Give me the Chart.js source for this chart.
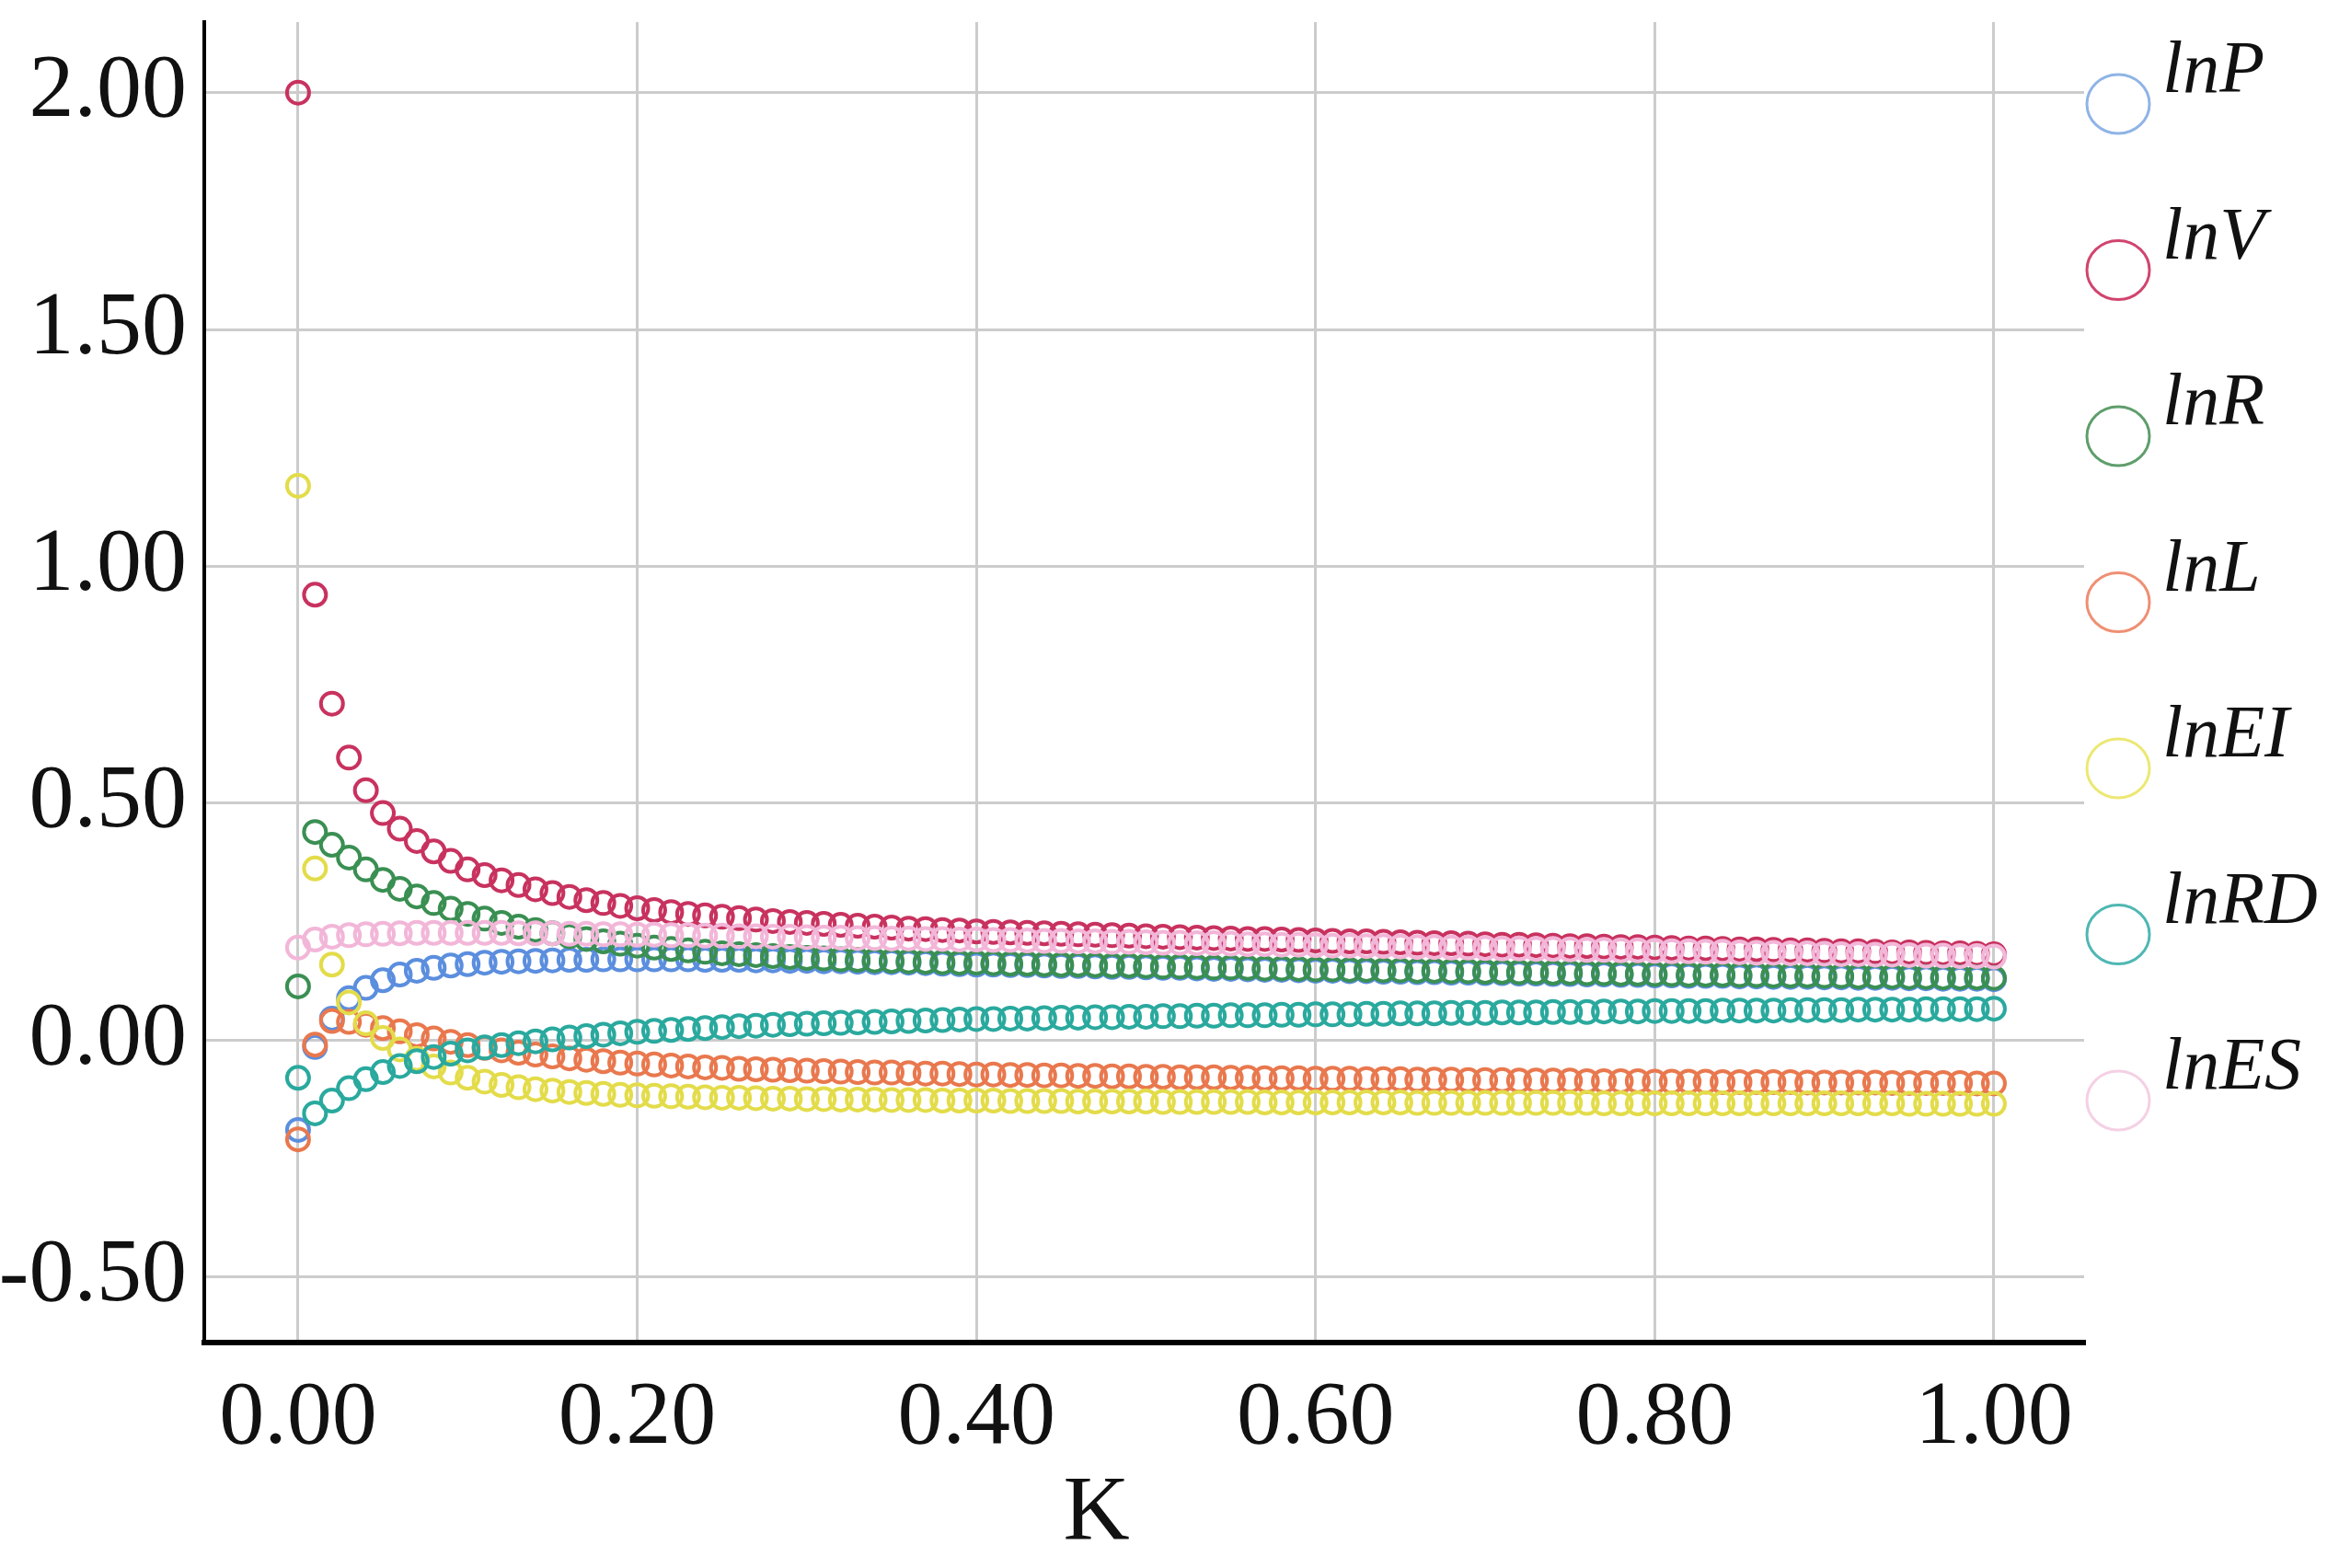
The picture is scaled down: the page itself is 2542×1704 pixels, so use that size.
<!DOCTYPE html>
<html>
<head>
<meta charset="utf-8">
<title>Ridge trace</title>
<script src="https://cdn.jsdelivr.net/npm/chart.js@4.4.1/dist/chart.umd.min.js"></script>
<style>
  html, body { margin: 0; padding: 0; background: #ffffff; }
  #wrap { width: 2542px; height: 1704px; position: relative; }
</style>
</head>
<body>
<div id="wrap"><canvas id="ridgeChart"></canvas></div>
<script>
// ridge parameter K
const kValues = [
  0.00, 0.01, 0.02, 0.03, 0.04, 0.05, 0.06, 0.07, 0.08, 0.09, 0.10,
  0.11, 0.12, 0.13, 0.14, 0.15, 0.16, 0.17, 0.18, 0.19, 0.20,
  0.21, 0.22, 0.23, 0.24, 0.25, 0.26, 0.27, 0.28, 0.29, 0.30,
  0.31, 0.32, 0.33, 0.34, 0.35, 0.36, 0.37, 0.38, 0.39, 0.40,
  0.41, 0.42, 0.43, 0.44, 0.45, 0.46, 0.47, 0.48, 0.49, 0.50,
  0.51, 0.52, 0.53, 0.54, 0.55, 0.56, 0.57, 0.58, 0.59, 0.60,
  0.61, 0.62, 0.63, 0.64, 0.65, 0.66, 0.67, 0.68, 0.69, 0.70,
  0.71, 0.72, 0.73, 0.74, 0.75, 0.76, 0.77, 0.78, 0.79, 0.80,
  0.81, 0.82, 0.83, 0.84, 0.85, 0.86, 0.87, 0.88, 0.89, 0.90,
  0.91, 0.92, 0.93, 0.94, 0.95, 0.96, 0.97, 0.98, 0.99, 1.00,
];

const lnP = [
  -0.190, -0.015, 0.045, 0.088, 0.110, 0.126, 0.138, 0.146, 0.152, 0.157, 0.160,
  0.163, 0.165, 0.166, 0.167, 0.168, 0.169, 0.169, 0.170, 0.170, 0.170,
  0.170, 0.170, 0.170, 0.169, 0.169, 0.169, 0.168, 0.168, 0.167, 0.167,
  0.166, 0.166, 0.165, 0.164, 0.164, 0.163, 0.162, 0.161, 0.160, 0.159,
  0.159, 0.158, 0.158, 0.157, 0.156, 0.156, 0.155, 0.154, 0.154, 0.153,
  0.152, 0.152, 0.151, 0.150, 0.150, 0.149, 0.148, 0.148, 0.147, 0.146,
  0.146, 0.145, 0.145, 0.144, 0.144, 0.143, 0.143, 0.142, 0.142, 0.141,
  0.141, 0.140, 0.140, 0.139, 0.139, 0.138, 0.138, 0.137, 0.137, 0.136,
  0.136, 0.135, 0.135, 0.135, 0.134, 0.134, 0.133, 0.133, 0.133, 0.132,
  0.132, 0.131, 0.131, 0.131, 0.130, 0.130, 0.129, 0.129, 0.129, 0.128,
];

const lnV = [
  2.000, 0.940, 0.710, 0.596, 0.527, 0.479, 0.446, 0.420, 0.398, 0.378, 0.360,
  0.348, 0.337, 0.327, 0.318, 0.310, 0.302, 0.295, 0.289, 0.283, 0.278,
  0.274, 0.270, 0.266, 0.263, 0.260, 0.257, 0.254, 0.251, 0.249, 0.247,
  0.245, 0.243, 0.241, 0.239, 0.237, 0.235, 0.234, 0.232, 0.231, 0.229,
  0.228, 0.227, 0.226, 0.225, 0.224, 0.223, 0.222, 0.221, 0.220, 0.219,
  0.218, 0.217, 0.216, 0.215, 0.214, 0.213, 0.213, 0.212, 0.211, 0.210,
  0.209, 0.208, 0.208, 0.207, 0.206, 0.205, 0.204, 0.204, 0.203, 0.202,
  0.201, 0.201, 0.200, 0.199, 0.198, 0.198, 0.197, 0.196, 0.196, 0.195,
  0.194, 0.193, 0.193, 0.192, 0.191, 0.191, 0.190, 0.189, 0.189, 0.188,
  0.187, 0.187, 0.186, 0.185, 0.185, 0.184, 0.183, 0.183, 0.182, 0.181,
];

const lnR = [
  0.113, 0.439, 0.412, 0.385, 0.360, 0.338, 0.319, 0.303, 0.289, 0.277, 0.266,
  0.256, 0.247, 0.239, 0.232, 0.225, 0.219, 0.213, 0.208, 0.203, 0.199,
  0.195, 0.192, 0.189, 0.186, 0.183, 0.181, 0.179, 0.177, 0.175, 0.173,
  0.172, 0.170, 0.169, 0.168, 0.167, 0.166, 0.165, 0.164, 0.163, 0.163,
  0.162, 0.161, 0.161, 0.160, 0.159, 0.159, 0.158, 0.157, 0.157, 0.156,
  0.155, 0.155, 0.154, 0.153, 0.153, 0.152, 0.151, 0.151, 0.150, 0.149,
  0.149, 0.148, 0.148, 0.147, 0.147, 0.146, 0.146, 0.145, 0.145, 0.144,
  0.144, 0.143, 0.143, 0.142, 0.142, 0.141, 0.141, 0.140, 0.140, 0.139,
  0.139, 0.138, 0.138, 0.138, 0.137, 0.137, 0.136, 0.136, 0.136, 0.135,
  0.135, 0.134, 0.134, 0.134, 0.133, 0.133, 0.132, 0.132, 0.132, 0.131,
];

const lnL = [
  -0.210, -0.010, 0.040, 0.038, 0.032, 0.025, 0.018, 0.010, 0.003, -0.004, -0.011,
  -0.017, -0.022, -0.027, -0.031, -0.035, -0.039, -0.042, -0.045, -0.048, -0.050,
  -0.052, -0.054, -0.056, -0.058, -0.059, -0.061, -0.062, -0.063, -0.064, -0.065,
  -0.066, -0.067, -0.068, -0.069, -0.069, -0.070, -0.071, -0.071, -0.072, -0.073,
  -0.073, -0.074, -0.074, -0.075, -0.075, -0.076, -0.076, -0.077, -0.077, -0.078,
  -0.078, -0.079, -0.079, -0.079, -0.080, -0.080, -0.081, -0.081, -0.081, -0.082,
  -0.082, -0.082, -0.083, -0.083, -0.083, -0.084, -0.084, -0.084, -0.085, -0.085,
  -0.085, -0.086, -0.086, -0.086, -0.086, -0.087, -0.087, -0.087, -0.087, -0.088,
  -0.088, -0.088, -0.088, -0.089, -0.089, -0.089, -0.089, -0.089, -0.090, -0.090,
  -0.090, -0.090, -0.090, -0.091, -0.091, -0.091, -0.091, -0.091, -0.092, -0.092,
];

const lnEI = [
  1.170, 0.362, 0.159, 0.079, 0.035, 0.004, -0.020, -0.040, -0.056, -0.069, -0.080,
  -0.088, -0.095, -0.100, -0.104, -0.107, -0.110, -0.112, -0.114, -0.116, -0.117,
  -0.118, -0.119, -0.120, -0.121, -0.122, -0.122, -0.123, -0.124, -0.124, -0.125,
  -0.125, -0.126, -0.126, -0.126, -0.127, -0.127, -0.127, -0.128, -0.128, -0.128,
  -0.128, -0.129, -0.129, -0.129, -0.129, -0.130, -0.130, -0.130, -0.130, -0.130,
  -0.131, -0.131, -0.131, -0.131, -0.131, -0.131, -0.132, -0.132, -0.132, -0.132,
  -0.132, -0.132, -0.132, -0.132, -0.132, -0.133, -0.133, -0.133, -0.133, -0.133,
  -0.133, -0.133, -0.133, -0.133, -0.133, -0.133, -0.134, -0.134, -0.134, -0.134,
  -0.134, -0.134, -0.134, -0.134, -0.134, -0.134, -0.134, -0.134, -0.134, -0.134,
  -0.134, -0.134, -0.134, -0.134, -0.135, -0.135, -0.135, -0.135, -0.135, -0.135,
];

const lnRD = [
  -0.080, -0.155, -0.128, -0.102, -0.083, -0.068, -0.055, -0.045, -0.036, -0.029, -0.022,
  -0.016, -0.011, -0.007, -0.003, 0.001, 0.005, 0.008, 0.011, 0.014, 0.017,
  0.019, 0.021, 0.023, 0.025, 0.027, 0.029, 0.030, 0.032, 0.033, 0.034,
  0.035, 0.036, 0.037, 0.038, 0.039, 0.040, 0.041, 0.042, 0.043, 0.044,
  0.044, 0.045, 0.045, 0.046, 0.047, 0.047, 0.048, 0.048, 0.049, 0.049,
  0.050, 0.050, 0.051, 0.051, 0.052, 0.052, 0.052, 0.053, 0.053, 0.054,
  0.054, 0.054, 0.055, 0.055, 0.056, 0.056, 0.056, 0.057, 0.057, 0.057,
  0.058, 0.058, 0.058, 0.059, 0.059, 0.059, 0.060, 0.060, 0.060, 0.061,
  0.061, 0.061, 0.061, 0.062, 0.062, 0.062, 0.062, 0.063, 0.063, 0.063,
  0.063, 0.064, 0.064, 0.064, 0.064, 0.065, 0.065, 0.065, 0.065, 0.066,
];

const lnES = [
  0.195, 0.212, 0.218, 0.221, 0.223, 0.224, 0.225, 0.226, 0.226, 0.226, 0.226,
  0.226, 0.226, 0.225, 0.225, 0.225, 0.224, 0.224, 0.223, 0.223, 0.222,
  0.222, 0.221, 0.221, 0.220, 0.220, 0.219, 0.219, 0.218, 0.218, 0.217,
  0.216, 0.216, 0.215, 0.215, 0.214, 0.214, 0.213, 0.213, 0.212, 0.212,
  0.211, 0.211, 0.210, 0.209, 0.209, 0.208, 0.208, 0.207, 0.207, 0.206,
  0.205, 0.205, 0.204, 0.204, 0.203, 0.202, 0.202, 0.201, 0.201, 0.200,
  0.199, 0.199, 0.198, 0.198, 0.197, 0.196, 0.196, 0.195, 0.195, 0.194,
  0.193, 0.193, 0.192, 0.192, 0.191, 0.190, 0.190, 0.189, 0.189, 0.188,
  0.187, 0.187, 0.186, 0.186, 0.185, 0.184, 0.184, 0.183, 0.183, 0.182,
  0.181, 0.181, 0.180, 0.180, 0.179, 0.178, 0.178, 0.177, 0.177, 0.176,
];

const seriesNames = ['lnP', 'lnV', 'lnR', 'lnL', 'lnEI', 'lnRD', 'lnES'];
const seriesValues = [lnP, lnV, lnR, lnL, lnEI, lnRD, lnES];
const seriesColors = ['#5b8ede', '#c8325f', '#3a8f52', '#e9784e', '#e3dc4a', '#2aa99e', '#f2b6d8'];
const legendColors = ['#8fb4e6', '#d0456f', '#5f9e6c', '#ef8f73', '#ece873', '#4fb7b3', '#f5d0e4'];

const xTicks = [0, 0.2, 0.4, 0.6, 0.8, 1.0];
const yTicks = [-0.5, 0, 0.5, 1.0, 1.5, 2.0];

const serif = "'Liberation Serif', 'Times New Roman', serif";

const legendAndTitle = {
  id: 'legendAndTitle',
  afterDraw(chart) {
    const { ctx, chartArea } = chart;
    ctx.save();
    // axis title
    ctx.fillStyle = '#111111';
    ctx.font = `100px ${serif}`;
    ctx.textAlign = 'center';
    ctx.textBaseline = 'middle';
    ctx.fillText('K', (chartArea.left + chartArea.right) / 2 - 52, 1646);

    // legend on the right
    const cx = chartArea.right + 37;
    seriesNames.forEach((name, i) => {
      const cy = 113 + i * 180.5;
      ctx.beginPath();
      ctx.ellipse(cx, cy, 34, 32, 0, 0, Math.PI * 2);
      ctx.lineWidth = 3;
      ctx.strokeStyle = legendColors[i];
      ctx.stroke();
      ctx.fillStyle = '#111111';
      ctx.font = `italic 80px ${serif}`;
      ctx.textAlign = 'left';
      ctx.textBaseline = 'alphabetic';
      ctx.fillText(name, cx + 48, cy - 13);
    });
    ctx.restore();
  },
};

const ctx = document.getElementById('ridgeChart');

new Chart(ctx, {
  type: 'scatter',
  data: {
    datasets: seriesNames.map((name, i) => ({
      label: name,
      data: kValues.map((k, j) => ({ x: k, y: seriesValues[i][j] })),
      pointStyle: 'circle',
      pointRadius: 12,
      pointHoverRadius: 12,
      borderWidth: 4,
      borderColor: seriesColors[i],
      backgroundColor: 'rgba(255,255,255,0)',
      order: seriesNames.length - i,
    })),
  },
  options: {
    responsive: true,
    maintainAspectRatio: false,
    animation: false,
    layout: {
      autoPadding: false,
      padding: { top: 24, right: 277, bottom: 0, left: 0 },
    },
    plugins: {
      legend: { display: false },
      tooltip: { enabled: false },
    },
    scales: {
      x: {
        type: 'linear',
        min: -0.0553,
        max: 1.0532,
        afterBuildTicks: (scale) => {
          scale.ticks = xTicks.map((v) => ({ value: v }));
        },
        afterFit: (scale) => {
          scale.height = 245;
          scale.paddingLeft = 0;
          scale.paddingRight = 0;
        },
        grid: {
          color: '#cccccc',
          lineWidth: 3,
          drawTicks: false,
        },
        border: { display: true, color: '#000000', width: 6 },
        ticks: {
          padding: 24,
          color: '#111111',
          font: { family: serif, size: 98 },
          maxRotation: 0,
          callback: (v) => Number(v).toFixed(2),
        },
      },
      y: {
        type: 'linear',
        min: -0.639,
        max: 2.149,
        afterBuildTicks: (scale) => {
          scale.ticks = yTicks.map((v) => ({ value: v }));
        },
        afterFit: (scale) => {
          scale.width = 222;
          scale.paddingTop = 0;
          scale.paddingBottom = 0;
        },
        grid: {
          color: '#cccccc',
          lineWidth: 3,
          drawTicks: false,
        },
        border: { display: true, color: '#000000', width: 4 },
        ticks: {
          padding: 19,
          color: '#111111',
          font: { family: serif, size: 98 },
          callback: (v) => Number(v).toFixed(2),
        },
      },
    },
  },
  plugins: [legendAndTitle],
});
</script>
</body>
</html>
